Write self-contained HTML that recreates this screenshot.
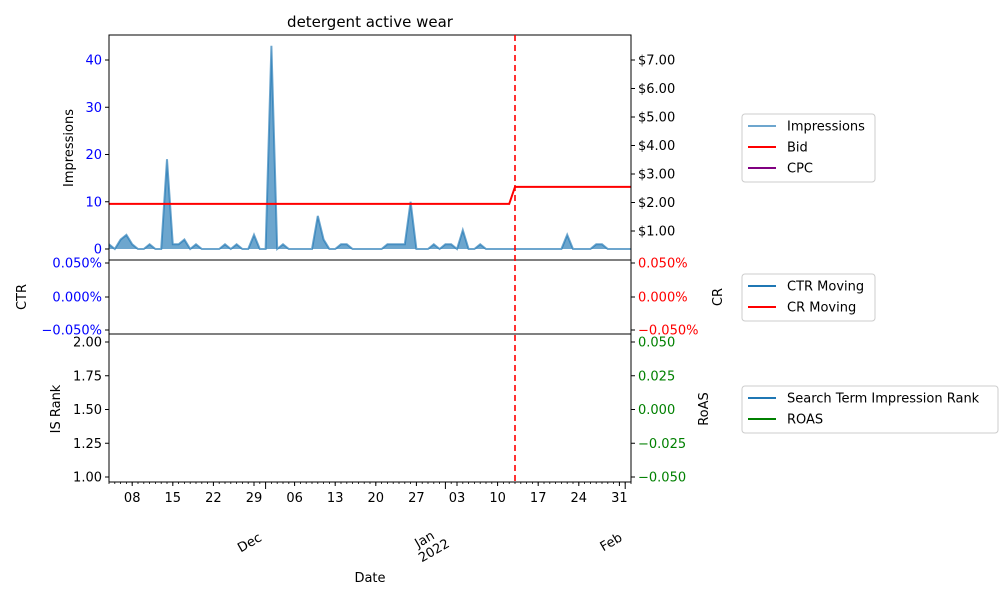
<!DOCTYPE html>
<html><head><meta charset="utf-8"><style>
body{margin:0;background:#fff;}
svg{display:block;font-family:"DejaVu Sans","Liberation Sans",sans-serif;}
</style></head><body>
<svg id="c" width="1000" height="600" viewBox="0 0 1000 600"></svg>
<script>
const startDate = [2021, 10, 4];
const impressions = [1,0,2,3,1,0,0,1,0,0,19,1,1,2,0,1,0,0,0,0,1,0,1,0,0,3,0,0,43,0,1,0,0,0,0,0,7,2,0,0,1,1,0,0,0,0,0,0,1,1,1,1,10,0,0,0,1,0,1,1,0,4,0,0,1,0,0,0,0,0,0,0,0,0,0,0,0,0,0,3,0,0,0,0,1,1,0,0,0,0,0];
const bid = [];
const bidBefore = 1.95, bidAfter = 2.55, bidChangeDay = 70;
for (let i = 0; i < impressions.length; i++) bid.push(i < bidChangeDay ? bidBefore : bidAfter);
const markerDay = 70;
const dayTickLabels = ["08","15","22","29","06","13","20","27","03","10","17","24","31"];
const dayTickIndex = [4,11,18,25,32,39,46,53,60,67,74,81,88];
const monthStarts = [27,58,89];
const impTicks = [0,10,20,30,40];
const cpcTicks = ["$1.00","$2.00","$3.00","$4.00","$5.00","$6.00","$7.00"];
const ctrTicks = ["0.050%","0.000%","\u22120.050%"];
const rankTicks = ["1.00","1.25","1.50","1.75","2.00"];
const roasTicks = ["0.050","0.025","0.000","\u22120.025","\u22120.050"];

const NS="http://www.w3.org/2000/svg", svg=document.getElementById('c');
function mk(t,a,txt,parent){const e=document.createElementNS(NS,t);for(const k in a)e.setAttribute(k,a[k]);if(txt!==undefined)e.textContent=txt;(parent||svg).appendChild(e);return e;}
const L=109,R=631,T1=35,B1=260,B2=334,B3=482;
const x=d=>L+(d)*5.8;
const yI=v=>249-v*4.725;
const yC=v=>259.5-v*28.5;

let pts=impressions.map((v,i)=>x(i)+","+yI(v)).join(" ");
let area=mk('polygon',{points:x(0)+","+yI(0)+" "+pts+" "+x(impressions.length-1)+","+yI(0),fill:"#1f77b4","fill-opacity":"0.65"});

let ln=mk('polyline',{points:pts,fill:"none",stroke:"#1f77b4","stroke-opacity":"0.65","stroke-width":2});

let bl=mk('polyline',{points:bid.map((v,i)=>x(i)+","+yC(v)).join(" "),fill:"none",stroke:"red","stroke-width":2});

mk('line',{x1:R,y1:T1,x2:R,y2:B1,stroke:"purple","stroke-width":1});
[[T1,B1],[B1,B2],[B2,B3]].forEach(([a,b],i)=>{const r=mk('rect',{x:L,y:a,width:R-L,height:b-a,fill:"none",stroke:"#000","stroke-width":1});});
let ml=mk('line',{x1:x(markerDay),y1:T1,x2:x(markerDay),y2:B3,stroke:"red","stroke-width":1.6,"stroke-dasharray":"6,4"});

impTicks.forEach(v=>{const y=yI(v);mk('line',{x1:L-4,y1:y,x2:L,y2:y,stroke:"#000"});let t=mk('text',{x:L-7,y:y+4.5,"text-anchor":"end","font-size":13,fill:"blue"},v);});
cpcTicks.forEach((s,i)=>{const y=yC(i+1);mk('line',{x1:R,y1:y,x2:R+4,y2:y,stroke:"#000"});let t=mk('text',{x:R+7,y:y+4.5,"font-size":13,fill:"#000"},s);});
const ctrY=[263,297,330];
ctrTicks.forEach((s,i)=>{const y=ctrY[i];mk('line',{x1:L-4,y1:y,x2:L,y2:y,stroke:"#000"});mk('line',{x1:R,y1:y,x2:R+4,y2:y,stroke:"#000"});
let t=mk('text',{x:L-7,y:y+4.5,"text-anchor":"end","font-size":13,fill:"blue"},s);
let t2=mk('text',{x:R+7,y:y+4.5,"font-size":13,fill:"red"},s);});
rankTicks.forEach((s,i)=>{const y=477-i*33.75;mk('line',{x1:L-4,y1:y,x2:L,y2:y,stroke:"#000"});let t=mk('text',{x:L-7,y:y+4.5,"text-anchor":"end","font-size":13,fill:"#000"},s);});
roasTicks.forEach((s,i)=>{const y=342+i*33.75;mk('line',{x1:R,y1:y,x2:R+4,y2:y,stroke:"#000"});let t=mk('text',{x:R+7,y:y+4.5,"font-size":13,fill:"green"},s);});
for(let d=0;d<=90;d++){mk('line',{x1:x(d),y1:B3,x2:x(d),y2:B3+2,stroke:"#000","stroke-width":0.8});}
monthStarts.forEach(d=>mk('line',{x1:x(d),y1:B3,x2:x(d),y2:B3+7,stroke:"#000"}));
dayTickLabels.forEach((s,i)=>{const d=dayTickIndex[i];mk('line',{x1:x(d),y1:B3,x2:x(d),y2:B3+4,stroke:"#000"});let t=mk('text',{x:x(d),y:502,"text-anchor":"middle","font-size":13},s);});
[["Dec",x(27)-3,540],["Jan",x(58)-10,538],["Feb",x(89)-2,540]].forEach(([s,px,py])=>{let t=mk('text',{x:px,y:py,"text-anchor":"end","font-size":13,transform:`rotate(-30 ${px} ${py})`},s);});
{let px=x(58)+5,py=546;let t=mk('text',{x:px,y:py,"text-anchor":"end","font-size":13,transform:`rotate(-30 ${px} ${py})`},"2022");}
function lab(s,px,py,rot,name,anchor){let t=mk('text',{x:px,y:py,"text-anchor":anchor||"middle","font-size":13,transform:rot?`rotate(-90 ${px} ${py})`:""},s);}
let ti=mk('text',{x:370,y:27,"text-anchor":"middle","font-size":15},"detergent active wear");
lab("Impressions",73,148,true,"impressions-axis-title");
lab("CTR",26,297,true,"ctr-axis-title");
lab("CR",722,297,true,"cr-axis-title");
lab("IS Rank",60,409,true,"rank-axis-title");
lab("RoAS",708,409,true,"roas-axis-title");
lab("Date",370,582,false,"x-axis-title");
function legend(x0,y0,w,items,name){const g=mk('g',{});
mk('rect',{x:x0,y:y0,width:w,height:items.length*21+5,rx:3,fill:"#fff",stroke:"#ccc"},undefined,g);
items.forEach(([s,c,op],i)=>{const yy=y0+12+i*21;mk('line',{x1:x0+6,y1:yy,x2:x0+34,y2:yy,stroke:c,"stroke-width":2,"stroke-opacity":op||1},undefined,g);let t=mk('text',{x:x0+45,y:yy+4.5,"font-size":13},s,g);});}
legend(742,114,133,[["Impressions","#1f77b4",0.65],["Bid","red"],["CPC","purple"]],"legend-top");
legend(742,274,133,[["CTR Moving","#1f77b4"],["CR Moving","red"]],"legend-middle");
legend(742,386,256,[["Search Term Impression Rank","#1f77b4"],["ROAS","green"]],"legend-bottom");
</script>
</body></html>
